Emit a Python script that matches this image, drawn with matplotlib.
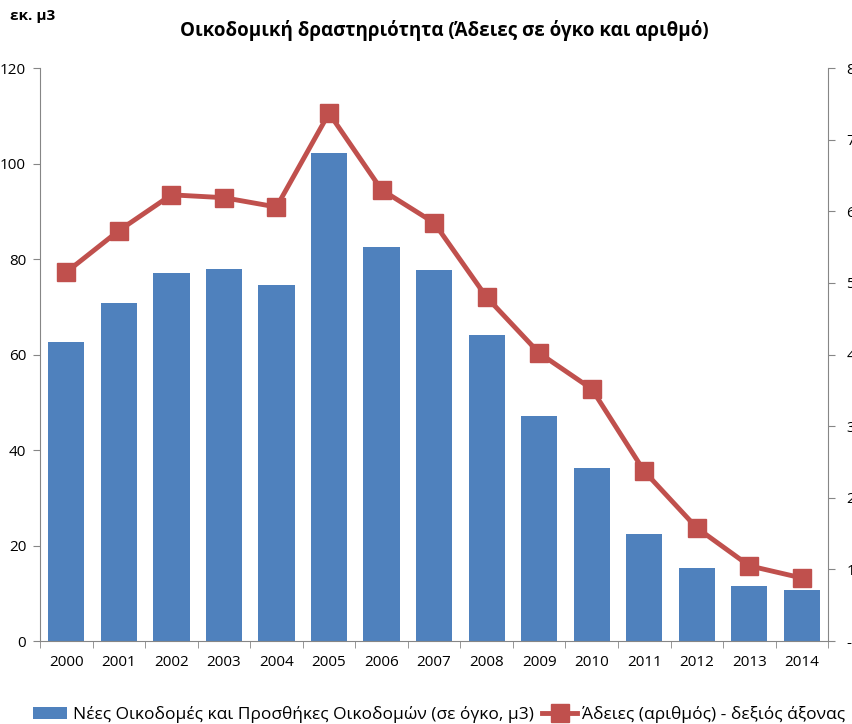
import matplotlib.pyplot as plt
import matplotlib.ticker as mticker

plt.rcParams['font.family'] = ['Open Sans', 'DejaVu Sans']

years = ['2000', '2001', '2002', '2003', '2004', '2005', '2006', '2007',
         '2008', '2009', '2010', '2011', '2012', '2013', '2014']
# Νέες Οικοδομές και Προσθήκες (εκ. μ3)
volume = [62.6, 70.8, 77.1, 77.9, 74.6, 102.2, 82.5, 77.7,
          64.1, 47.1, 36.2, 22.4, 15.3, 11.5, 10.7]
# Άδειες (αριθμός)
permits = [51500, 57300, 62300, 61900, 60600, 73700, 63000, 58400,
           48000, 40200, 35200, 23700, 15800, 10500, 8800]

blue = '#4F81BD'
red = '#C0504D'
grey = '#868686'

fig = plt.figure(figsize=(8.52, 7.24), dpi=100)
ax = fig.add_axes([0.047, 0.1146, 0.925, 0.7914])
x = list(range(len(years)))
bars = ax.bar(x, volume, width=0.69, color=blue, label='Νέες Οικοδομές και Προσθήκες Οικοδομών (σε όγκο, μ3)')
ax.set_xlim(-0.5, len(years) - 0.5)
ax.set_ylim(0, 120)
ax.set_yticks(range(0, 121, 20))
ax.set_xticks(x)
ax.set_xticklabels(years)
ax.set_xticks([i - 0.5 for i in range(len(years) + 1)], minor=True)
ax.tick_params(axis='x', which='major', length=0, pad=10, labelsize=11)
ax.tick_params(axis='x', which='minor', length=5, color=grey, direction='out')
ax.tick_params(axis='y', length=5, color=grey, labelsize=11, pad=5)
for s in ['left', 'bottom']:
    ax.spines[s].set_color(grey)
ax.spines['top'].set_visible(False)
ax.spines['right'].set_visible(False)

ax2 = ax.twinx()
line, = ax2.plot(x, permits, color=red, linewidth=3.5, marker='s', markersize=13,
                 label='Άδειες (αριθμός) - δεξιός άξονας')
ax2.set_ylim(0, 80000)
ax2.set_yticks(range(0, 80001, 10000))
ax2.yaxis.set_major_formatter(mticker.FuncFormatter(
    lambda v, p: '-' if v == 0 else f'{int(v):,}'.replace(',', '.')))
ax2.tick_params(axis='y', length=5, color=grey, labelsize=11, pad=8)
ax2.spines['right'].set_color(grey)
ax2.spines['top'].set_visible(False)
ax2.spines['left'].set_visible(False)
ax2.spines['bottom'].set_visible(False)

fig.text(0.522, 0.958, 'Οικοδομική δραστηριότητα (Άδειες σε όγκο και αριθμό)',
         ha='center', va='center', fontsize=13.5, fontweight='bold')
fig.text(0.012, 0.978, 'εκ. μ3', ha='left', va='center', fontsize=11, fontweight='bold')

fig.legend(handles=[bars, line], loc='center left', bbox_to_anchor=(0.02, 0.013),
           ncol=2, frameon=False, fontsize=12.5, handlelength=2.0, columnspacing=0.5,
           handletextpad=0.3)

fig.savefig('out.png', dpi=100)
